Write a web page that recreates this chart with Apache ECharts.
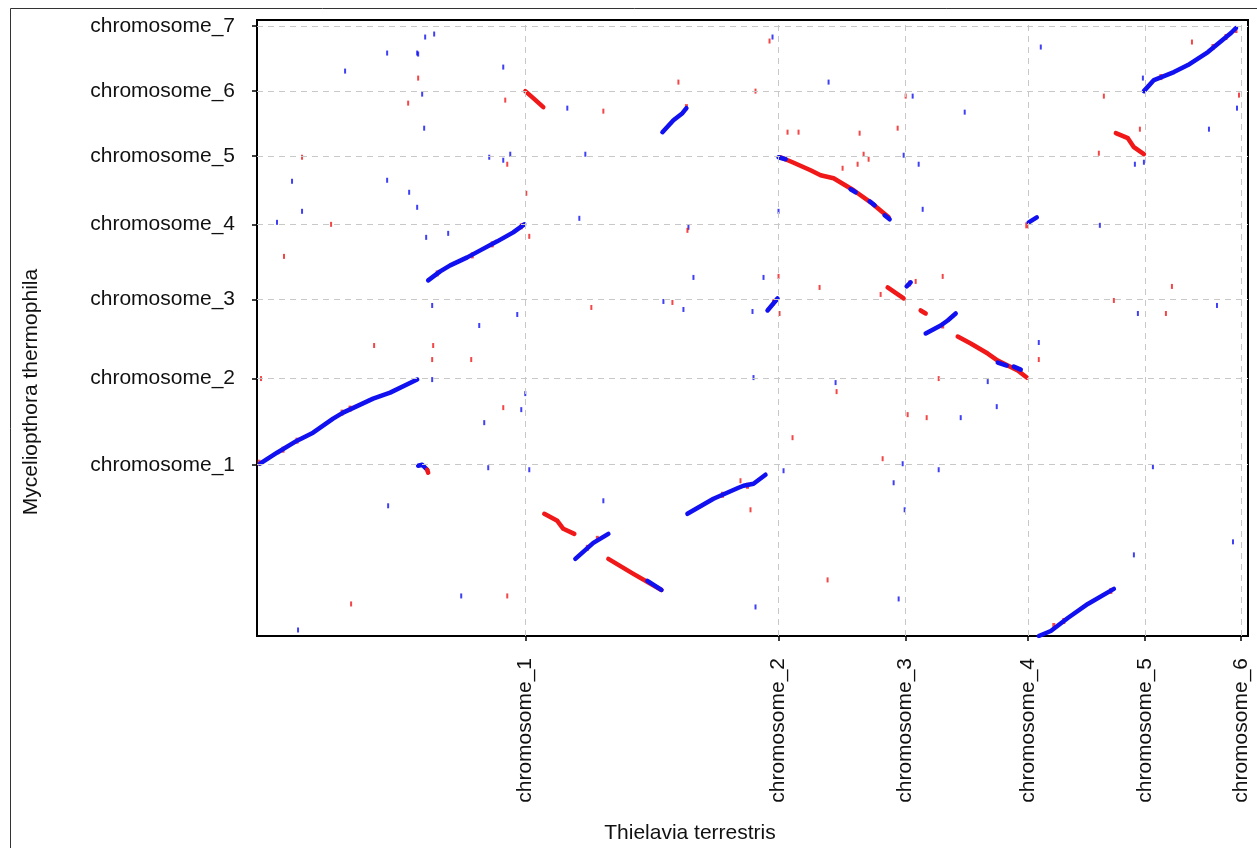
<!DOCTYPE html>
<html>
<head>
<meta charset="utf-8">
<script src="https://cdn.jsdelivr.net/npm/echarts@6.0.0/dist/echarts.min.js"></script>
<style>
  html, body { margin: 0; padding: 0; background: #fff; }
  #dotplot { width: 1257px; height: 848px; }
</style>
</head>
<body>
<div id="dotplot"></div>
<script type="text/javascript">
// chromosome ends (cumulative position) on each genome
var xNames = ['chromosome_1', 'chromosome_2', 'chromosome_3', 'chromosome_4', 'chromosome_5', 'chromosome_6'];
var xEnds = [26.8, 52.1, 64.8, 77.0, 88.7, 98.3];
var yNames = ['chromosome_1', 'chromosome_2', 'chromosome_3', 'chromosome_4', 'chromosome_5', 'chromosome_6', 'chromosome_7'];
var yEnds = [17.1, 25.7, 33.6, 41.1, 47.9, 54.4, 60.9];

// syntenic blocks, same strand (blue)
var blueBlocks = [
  [[0.3, 17.2], [2.0, 18.3], [4.0, 19.5], [5.6, 20.3], [7.6, 21.7], [8.6, 22.3], [11.6, 23.7], [13.3, 24.3], [16.0, 25.6]],
  [[17.1, 35.5], [18.3, 36.4], [19.3, 37.0], [21.0, 37.8], [22.3, 38.5], [24.0, 39.4], [25.6, 40.3], [26.7, 41.1]],
  [[40.5, 50.3], [41.6, 51.5], [42.5, 52.2], [42.9, 52.7]],
  [[88.6, 54.4], [89.6, 55.5], [91.6, 56.3], [93.0, 57.0], [95.0, 58.3], [97.3, 60.2], [97.8, 60.7]],
  [[51.0, 32.5], [52.0, 33.7]],
  [[77.1, 41.3], [77.9, 41.8]],
  [[66.8, 30.2], [68.3, 31.0], [69.0, 31.5], [69.8, 32.2]],
  [[78.1, 0.0], [79.3, 0.5], [81.0, 1.8], [83.0, 3.2], [85.6, 4.7]],
  [[31.8, 7.7], [33.6, 9.3], [35.1, 10.2]],
  [[43.0, 12.2], [45.6, 13.7], [48.1, 14.8], [48.6, 15.0], [49.6, 15.2], [50.8, 16.1]],
  [[16.1, 17.0], [16.5, 17.1], [17.0, 16.6]],
  [[64.9, 34.9], [65.3, 35.3]]
];

// syntenic blocks, reverse strand (red)
var redBlocks = [
  [[26.8, 54.4], [27.6, 53.7], [28.6, 52.8]],
  [[52.3, 47.8], [53.5, 47.3], [55.3, 46.5], [56.3, 46.0], [57.6, 45.7], [59.6, 44.5], [61.3, 43.3], [63.1, 41.8]],
  [[85.8, 50.2], [87.0, 49.7], [87.6, 48.8], [88.6, 48.1]],
  [[63.0, 34.8], [64.6, 33.7]],
  [[66.3, 32.5], [66.8, 32.2]],
  [[70.0, 29.9], [71.3, 29.2], [73.0, 28.2], [74.0, 27.5], [75.0, 27.0], [76.0, 26.5], [76.9, 25.8]],
  [[28.7, 12.2], [30.0, 11.5], [30.6, 10.7], [31.7, 10.2]],
  [[35.1, 7.7], [37.6, 6.2], [40.4, 4.6]],
  [[17.0, 16.6], [17.1, 16.3]]
];

// blue pieces lying inside red blocks
var blueInRed = [
  [[52.1, 47.8], [52.8, 47.6]],
  [[59.3, 44.6], [59.8, 44.3]],
  [[61.2, 43.4], [61.7, 43.0]],
  [[62.7, 42.0], [63.2, 41.6]],
  [[74.0, 27.3], [74.9, 27.0]],
  [[75.6, 26.9], [76.3, 26.6]],
  [[39.0, 5.5], [40.4, 4.6]]
];

// red hits inside blue blocks
var redInBlue = [
  [0.2, 17.3], [2.6, 18.6], [4.0, 19.5], [8.5, 22.3], [9.3, 22.7], [18.0, 36.2], [21.5, 38.0], [23.5, 39.1],
  [26.4, 40.9], [90.3, 55.8], [95.5, 58.8], [96.8, 59.8], [97.8, 60.5], [79.6, 1.0], [80.6, 1.5], [85.3, 4.5],
  [42.9, 52.8], [46.5, 14.1], [49.0, 15.0], [33.0, 8.8], [34.0, 9.7], [76.9, 41.0], [51.6, 33.3], [65.2, 35.2], [68.5, 31.0]
];

// isolated hits
var blueDots = [
  [8.8, 56.4], [13.0, 58.2], [16.0, 58.2], [3.5, 45.4], [4.5, 42.4], [2.0, 41.3], [13.0, 45.5], [15.2, 44.3],
  [16.0, 42.8], [16.8, 59.8], [17.7, 60.1], [16.1, 58.1], [24.6, 56.8], [16.5, 54.1], [16.7, 50.7], [23.2, 47.8],
  [24.6, 47.5], [25.3, 48.1], [32.8, 48.1], [32.2, 41.7], [16.9, 39.8], [19.1, 40.2], [17.5, 33.0], [26.0, 32.1],
  [31.0, 52.7], [51.5, 59.8], [52.1, 42.4], [43.1, 40.8], [43.6, 35.8], [40.6, 33.4], [42.6, 32.6], [50.6, 35.8],
  [49.5, 32.4], [57.1, 55.3], [65.5, 53.9], [70.7, 52.3], [78.3, 58.8], [64.6, 48.0], [66.1, 47.1], [66.5, 42.6],
  [84.2, 41.0], [87.7, 47.1], [88.6, 47.3], [95.1, 50.6], [97.9, 52.7], [88.5, 55.7], [88.0, 32.2], [95.9, 33.0],
  [22.2, 31.0], [17.5, 25.6], [26.8, 24.2], [26.4, 22.6], [22.7, 21.3], [23.1, 16.8], [27.2, 16.6], [34.6, 13.5],
  [20.4, 4.0], [49.6, 25.8], [52.6, 16.5], [49.8, 2.9], [78.1, 29.3], [57.8, 25.3], [73.0, 25.4], [73.9, 22.9],
  [70.3, 21.8], [64.5, 17.2], [68.1, 16.6], [63.6, 15.3], [64.7, 12.6], [89.5, 16.9], [64.1, 3.7], [87.6, 8.1],
  [97.5, 9.4], [13.1, 13.0], [4.1, 0.6]
];
var redDots = [
  [16.1, 55.7], [15.1, 53.2], [4.5, 47.8], [7.4, 41.1], [2.7, 37.9], [24.8, 53.5], [25.0, 47.1], [26.9, 44.2],
  [27.2, 39.9], [34.6, 52.4], [42.1, 55.3], [49.8, 54.4], [51.2, 59.4], [53.0, 50.3], [54.1, 50.3], [43.0, 40.5],
  [41.5, 33.3], [52.1, 35.9], [52.2, 32.2], [56.2, 34.8], [33.4, 32.8], [64.8, 53.9], [60.2, 50.2], [64.0, 50.7],
  [60.6, 48.1], [61.1, 47.6], [60.0, 47.1], [58.5, 46.7], [68.5, 35.9], [65.8, 35.4], [62.3, 34.1], [84.6, 53.9],
  [88.2, 50.6], [84.1, 48.2], [93.4, 59.3], [98.1, 54.0], [91.4, 34.9], [85.6, 33.5], [90.8, 32.2], [17.6, 29.0],
  [17.5, 27.6], [21.4, 27.6], [24.6, 22.8], [25.0, 4.0], [53.5, 19.8], [48.3, 15.5], [49.3, 12.6], [78.1, 27.6],
  [57.9, 24.4], [68.1, 25.7], [65.0, 22.1], [66.9, 21.8], [62.5, 17.7], [57.0, 5.6], [11.7, 29.0], [9.4, 3.2],
  [0.4, 25.7]
];

var BLUE = '#1010f0';
var RED = '#f01818';
var FONT = 'Liberation Sans, Arial, sans-serif';

// join blocks into one line series, gaps between blocks
function joinBlocks(blocks) {
  var out = [];
  blocks.forEach(function (b, i) {
    if (i > 0) out.push('-');
    b.forEach(function (p) { out.push(p); });
  });
  return out;
}

var dom = document.getElementById('dotplot');
var myChart = echarts.init(dom);
var option = {
  animation: false,
  backgroundColor: '#fff',
  grid: {
    left: 257, top: 20, right: 9, bottom: 212,
    show: true, borderColor: '#000', borderWidth: 2
  },
  xAxis: {
    type: 'value', min: 0, max: 99,
    axisLine: { show: true, onZero: false, lineStyle: { color: '#000', width: 2 } },
    axisTick: { show: true, customValues: xEnds, length: 5, lineStyle: { color: '#000', width: 1.5 } },
    axisLabel: {
      customValues: xEnds, rotate: 90, margin: 22, fontSize: 21, color: '#111', fontFamily: FONT,
      formatter: function (v) { var i = xEnds.indexOf(v); return i >= 0 ? xNames[i] : ''; }
    },
    splitLine: { show: false }
  },
  yAxis: {
    type: 'value', min: 0, max: 61.5,
    axisLine: { show: true, onZero: false, lineStyle: { color: '#000', width: 2 } },
    axisTick: { show: true, customValues: yEnds, length: 5, lineStyle: { color: '#000', width: 1.5 } },
    axisLabel: {
      customValues: yEnds, margin: 22, fontSize: 21, color: '#111', fontFamily: FONT,
      formatter: function (v) { var i = yEnds.indexOf(v); return i >= 0 ? yNames[i] : ''; }
    },
    splitLine: { show: false }
  },
  graphic: [
    { type: 'rect', silent: true, z: -10, shape: { x: 10.5, y: 8.5, width: 1400, height: 1000 },
      style: { fill: null, stroke: '#333', lineWidth: 1 } },
    { type: 'text', x: 690, y: 833, silent: true,
      style: { text: 'Thielavia terrestris', fontSize: 21, fill: '#111', fontFamily: FONT, align: 'center', verticalAlign: 'middle' } },
    { type: 'text', x: 31, y: 392, rotation: Math.PI / 2, silent: true,
      style: { text: 'Myceliopthora thermophila', fontSize: 21, fill: '#111', fontFamily: FONT, align: 'center', verticalAlign: 'middle' } }
  ],
  series: [
    {
      // chromosome boundaries
      type: 'scatter', data: [], silent: true,
      markLine: {
        silent: true, symbol: ['none', 'none'], label: { show: false },
        lineStyle: { color: '#c8c8c8', type: [6, 5], width: 1 },
        data: xEnds.map(function (v) { return { xAxis: v }; })
          .concat(yEnds.map(function (v) { return { yAxis: v }; }))
      }
    },
    {
      type: 'scatter', data: blueDots, symbol: 'rect', symbolSize: [2, 5],
      itemStyle: { color: BLUE }, silent: true
    },
    {
      type: 'scatter', data: redDots, symbol: 'rect', symbolSize: [2, 5],
      itemStyle: { color: RED }, silent: true
    },
    {
      type: 'line', data: joinBlocks(blueBlocks), showSymbol: false, connectNulls: false,
      lineStyle: { color: BLUE, width: 4.5, cap: 'round', join: 'round' }, silent: true
    },
    {
      type: 'line', data: joinBlocks(redBlocks), showSymbol: false, connectNulls: false,
      lineStyle: { color: RED, width: 4.5, cap: 'round', join: 'round' }, silent: true
    },
    {
      type: 'line', data: joinBlocks(blueInRed), showSymbol: false, connectNulls: false,
      lineStyle: { color: BLUE, width: 4.5, cap: 'round' }, silent: true
    },
    {
      type: 'scatter', data: redInBlue, symbol: 'rect', symbolSize: [3, 6],
      itemStyle: { color: RED }, silent: true
    }
  ]
};
myChart.setOption(option, true);
</script>
</body>
</html>
